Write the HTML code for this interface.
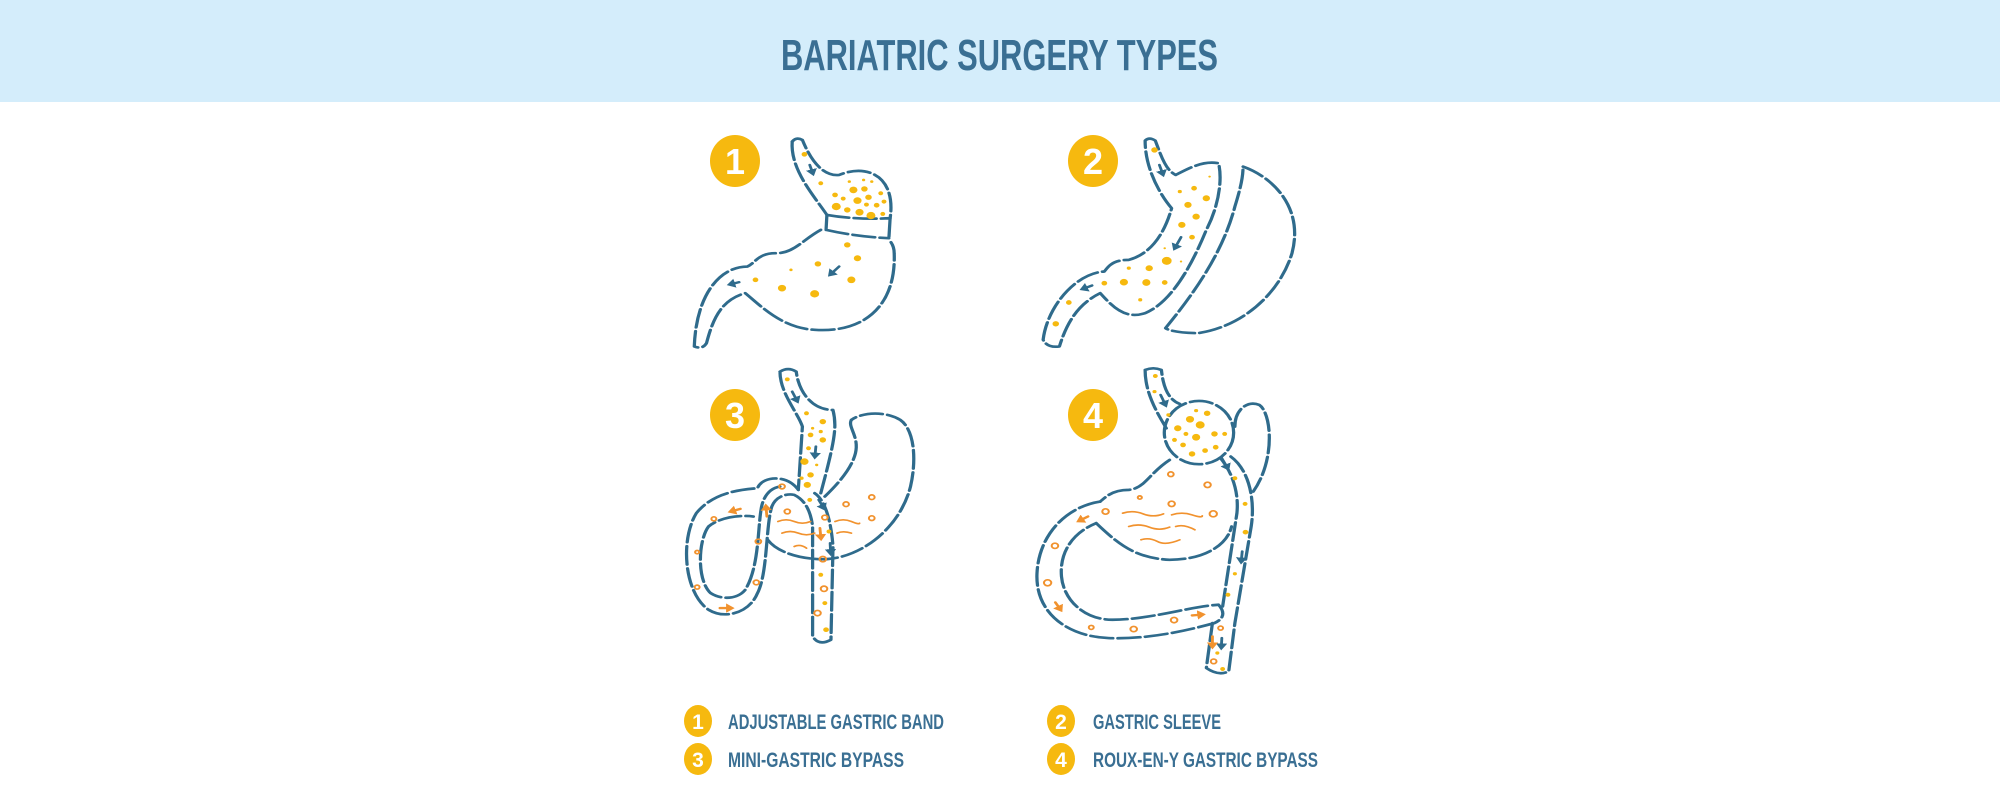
<!DOCTYPE html>
<html><head><meta charset="utf-8"><style>
html,body{margin:0;padding:0;background:#fff;width:2000px;height:800px;overflow:hidden}
svg{display:block}
.o{fill:none;stroke:#2f6b8c;stroke-width:8;stroke-dasharray:55 12;stroke-linecap:round;stroke-linejoin:round}
.y{fill:#f6b90f}
.oc{fill:none;stroke:#f1922e;stroke-width:5}
.w{fill:none;stroke:#f1922e;stroke-width:5;stroke-linecap:round}
.ba{stroke:#2f6b8c;stroke-width:7;stroke-linecap:round;fill:none}
.oa{stroke:#f1922e;stroke-width:7;stroke-linecap:round;fill:none}
text{font-family:"Liberation Sans",sans-serif;font-weight:bold}
</style></head><body>
<svg width="2000" height="800" viewBox="0 0 2000 800" xmlns="http://www.w3.org/2000/svg">
<defs>
<marker id="hb" markerWidth="4" markerHeight="4" refX="1" refY="2" orient="auto" markerUnits="strokeWidth"><path d="M0,0 L3,2 L0,4 Z" fill="#2f6b8c"/></marker>
<marker id="ho" markerWidth="4" markerHeight="4" refX="1" refY="2" orient="auto" markerUnits="strokeWidth"><path d="M0,0 L3,2 L0,4 Z" fill="#f1922e"/></marker>
</defs>
<rect x="0" y="0" width="2000" height="102" fill="#d4edfb"/>
<text x="781" y="70" font-size="44" fill="#3a6f93" textLength="437" lengthAdjust="spacingAndGlyphs">BARIATRIC SURGERY TYPES</text>

<g fill="#f6b90f"><ellipse cx="735" cy="161" rx="25" ry="26"/><ellipse cx="1093" cy="161" rx="25" ry="26"/><ellipse cx="735" cy="415" rx="25" ry="26"/><ellipse cx="1093" cy="415" rx="25" ry="26"/></g>
<g fill="#fff" font-size="36" text-anchor="middle"><text x="735" y="174">1</text><text x="1093" y="174">2</text><text x="735" y="428">3</text><text x="1093" y="428">4</text></g>

<g transform="translate(680,120) scale(0.408,0.333)">
<path class="o" d="M275,65 Q285,50 300,60 C320,120 350,170 390,165 C460,130 530,170 515,295"/>
<path class="o" d="M275,65 C270,150 330,230 360,285"/>
<path class="o" d="M360,285 Q430,300 515,295 M360,285 L358,330 M515,295 L512,355 M358,330 Q430,350 512,355"/>
<path class="o" d="M345,330 C300,360 280,400 235,400 C190,400 185,430 165,440 C100,440 40,520 35,680 Q55,690 65,670 C80,600 100,540 160,520 C200,560 250,625 330,630 C450,640 530,560 525,400 C525,375 515,365 512,358"/>
<g class="y">
<circle cx="305" cy="103" r="7"/><circle cx="345" cy="190" r="6"/><circle cx="415" cy="185" r="4"/><circle cx="450" cy="180" r="4"/><circle cx="470" cy="185" r="4"/><circle cx="425" cy="210" r="10"/><circle cx="452" cy="207" r="8"/><circle cx="380" cy="225" r="7"/><circle cx="400" cy="236" r="6"/><circle cx="435" cy="242" r="10"/><circle cx="462" cy="232" r="8"/><circle cx="492" cy="220" r="6"/><circle cx="383" cy="260" r="11"/><circle cx="410" cy="270" r="8"/><circle cx="440" cy="277" r="10"/><circle cx="468" cy="287" r="11"/><circle cx="482" cy="256" r="7"/><circle cx="500" cy="245" r="6"/><circle cx="497" cy="282" r="6"/><circle cx="457" cy="254" r="6"/>
<circle cx="410" cy="375" r="8"/><circle cx="435" cy="415" r="9"/><circle cx="338" cy="432" r="8"/><circle cx="272" cy="450" r="4"/><circle cx="185" cy="480" r="7"/><circle cx="250" cy="505" r="10"/><circle cx="330" cy="522" r="11"/><circle cx="420" cy="480" r="10"/>
</g>
<path class="ba" d="M318,135 L324,155" marker-end="url(#hb)"/>
<path class="ba" d="M390,440 L372,460" marker-end="url(#hb)"/>
<path class="ba" d="M145,487 L128,492" marker-end="url(#hb)"/>

<path class="o" d="M1140,62 Q1150,50 1165,62 C1180,110 1190,150 1215,165 C1240,150 1280,120 1320,130 C1330,180 1320,260 1290,330 C1250,450 1200,550 1140,580 C1090,600 1060,560 1030,520 C980,550 950,600 930,680 Q900,685 890,660 C900,560 970,460 1040,455 C1050,440 1060,420 1100,420 C1160,400 1190,330 1205,265 C1180,230 1140,150 1140,62 Z"/>
<path class="o" d="M1380,140 C1450,170 1530,260 1500,400 C1470,520 1380,620 1270,640 C1240,640 1200,635 1190,625 C1260,520 1330,400 1360,260 C1375,200 1380,170 1380,140 Z"/>
<g class="y">
<circle cx="1163" cy="90" r="8"/><circle cx="1298" cy="170" r="3"/><circle cx="1225" cy="215" r="5"/><circle cx="1260" cy="205" r="7"/><circle cx="1290" cy="235" r="9"/><circle cx="1245" cy="255" r="9"/><circle cx="1265" cy="290" r="9"/><circle cx="1230" cy="315" r="9"/><circle cx="1255" cy="352" r="7"/><circle cx="1188" cy="385" r="3"/><circle cx="1193" cy="423" r="12"/><circle cx="1228" cy="425" r="3"/><circle cx="1150" cy="445" r="9"/><circle cx="1100" cy="445" r="5"/><circle cx="1088" cy="487" r="10"/><circle cx="1143" cy="488" r="10"/><circle cx="1188" cy="488" r="7"/><circle cx="1040" cy="490" r="7"/><circle cx="1128" cy="540" r="5"/><circle cx="953" cy="548" r="7"/><circle cx="921" cy="612" r="8"/>
</g>
<path class="ba" d="M1175,135 L1182,158" marker-end="url(#hb)"/>
<path class="ba" d="M1228,352 L1215,380" marker-end="url(#hb)"/>
<path class="ba" d="M1010,497 L992,505" marker-end="url(#hb)"/>
</g>

<g transform="translate(680,360) scale(0.408,0.333)">
<path class="o" d="M245,35 Q265,20 285,35 C290,90 320,150 375,150 C385,200 380,240 345,400 M245,35 C245,100 290,160 300,200 L290,390"/>
<path class="o" d="M420,180 C410,200 440,230 430,280 C420,330 380,380 355,410"/>
<path class="o" d="M215,540 C240,580 300,600 360,598 C450,590 540,500 565,380 C580,300 575,210 540,180 C500,150 440,160 420,180"/>
<path class="o" d="M290,390 C260,340 200,350 190,385 C140,390 80,400 40,460 C0,540 10,700 70,750 C110,780 170,760 190,700 C215,640 210,500 225,440 C235,410 260,400 280,405 C305,420 320,450 325,500 L325,830 Q340,860 370,840 L375,560 C370,480 355,420 330,400"/>
<path class="o" d="M245,380 C220,385 205,410 200,440 C190,500 195,620 160,690 C140,720 100,720 75,700 C40,660 45,540 70,500 C100,470 150,465 180,470"/>
<g class="y"><circle cx="263" cy="58" r="6"/><circle cx="310" cy="160" r="6"/><circle cx="350" cy="185" r="8"/><circle cx="325" cy="205" r="4"/><circle cx="345" cy="215" r="5"/><circle cx="320" cy="225" r="7"/><circle cx="350" cy="240" r="8"/><circle cx="315" cy="265" r="6"/><circle cx="305" cy="305" r="10"/><circle cx="335" cy="315" r="4"/><circle cx="320" cy="345" r="8"/><circle cx="298" cy="355" r="5"/><circle cx="312" cy="375" r="9"/><circle cx="318" cy="420" r="6"/><circle cx="365" cy="515" r="6"/><circle cx="345" cy="645" r="6"/><circle cx="355" cy="730" r="6"/><circle cx="358" cy="810" r="7"/></g>
<g class="oc"><circle cx="250" cy="380" r="7"/><circle cx="263" cy="455" r="7"/><circle cx="407" cy="433" r="7"/><circle cx="470" cy="412" r="7"/><circle cx="470" cy="475" r="7"/><circle cx="355" cy="473" r="7"/><circle cx="83" cy="477" r="6"/><circle cx="192" cy="545" r="7"/><circle cx="42" cy="577" r="5"/><circle cx="42" cy="682" r="6"/><circle cx="187" cy="668" r="7"/><circle cx="350" cy="598" r="8"/><circle cx="353" cy="687" r="8"/><circle cx="337" cy="760" r="8"/></g>
<g class="w"><path d="M240,485 Q260,475 280,485 T320,485"/><path d="M380,485 Q400,475 420,485 T440,490"/><path d="M250,520 Q270,510 290,520 T330,520"/><path d="M385,520 Q400,512 420,520"/><path d="M280,560 Q295,552 310,565"/></g>
<path class="ba" d="M275,95 L285,118" marker-end="url(#hb)"/>
<path class="ba" d="M333,260 L331,285" marker-end="url(#hb)"/>
<path class="ba" d="M340,420 L350,440" marker-end="url(#hb)"/>
<path class="ba" d="M368,550 L369,575" marker-end="url(#hb)"/>
<path class="oa" d="M213,470 L211,445" marker-end="url(#ho)"/>
<path class="oa" d="M148,447 L130,453" marker-end="url(#ho)"/>
<path class="oa" d="M98,745 L120,745" marker-end="url(#ho)"/>
<path class="oa" d="M343,505 L345,530" marker-end="url(#ho)"/>

<path class="o" d="M1140,30 Q1160,20 1180,30 C1185,90 1200,120 1225,132 M1140,30 C1140,100 1170,160 1192,205"/>
<ellipse class="o" cx="1272" cy="218" rx="85" ry="95"/>
<path class="o" d="M1360,200 C1360,150 1390,120 1420,135 C1450,160 1460,300 1405,395"/>
<path class="o" d="M1325,295 C1355,340 1370,400 1365,460 L1330,740 M1350,290 C1395,330 1410,420 1400,500 L1360,790 L1345,935 Q1320,950 1290,925 L1305,790"/>
<path class="o" d="M1200,300 C1150,340 1140,385 1100,390 C1060,390 1045,410 1030,425 M1020,490 C1080,560 1120,595 1200,600 C1280,600 1340,560 1352,500"/>
<path class="o" d="M1030,425 C950,440 880,520 875,640 C870,760 950,830 1050,835 C1150,840 1250,810 1310,790 Q1345,770 1320,735 C1250,740 1150,780 1060,780 C990,780 940,720 935,650 C930,580 960,520 1020,490"/>
<g class="y"><circle cx="1165" cy="48" r="6"/><circle cx="1163" cy="95" r="5"/><circle cx="1197" cy="165" r="5"/><circle cx="1250" cy="178" r="10"/><circle cx="1292" cy="160" r="8"/><circle cx="1265" cy="152" r="5"/><circle cx="1220" cy="205" r="9"/><circle cx="1275" cy="195" r="11"/><circle cx="1310" cy="222" r="8"/><circle cx="1240" cy="222" r="6"/><circle cx="1265" cy="232" r="10"/><circle cx="1335" cy="222" r="6"/><circle cx="1212" cy="240" r="6"/><circle cx="1233" cy="255" r="7"/><circle cx="1287" cy="272" r="7"/><circle cx="1313" cy="262" r="7"/><circle cx="1255" cy="282" r="8"/><circle cx="1360" cy="355" r="6"/><circle cx="1385" cy="432" r="6"/><circle cx="1386" cy="517" r="7"/><circle cx="1360" cy="642" r="5"/><circle cx="1343" cy="705" r="6"/><circle cx="1317" cy="880" r="5"/><circle cx="1330" cy="928" r="6"/></g>
<g class="oc"><circle cx="1203" cy="343" r="7"/><circle cx="1293" cy="375" r="8"/><circle cx="1127" cy="413" r="5"/><circle cx="1205" cy="432" r="8"/><circle cx="1043" cy="455" r="8"/><circle cx="1307" cy="462" r="9"/><circle cx="919" cy="558" r="8"/><circle cx="901" cy="669" r="9"/><circle cx="1008" cy="803" r="6"/><circle cx="1112" cy="808" r="8"/><circle cx="1211" cy="781" r="8"/><circle cx="1325" cy="805" r="6"/><circle cx="1308" cy="905" r="7"/></g>
<g class="w"><path d="M1085,460 Q1110,450 1135,462 T1185,462"/><path d="M1205,465 Q1230,455 1255,465 T1280,468"/><path d="M1100,500 Q1125,490 1150,502 T1200,502"/><path d="M1215,500 Q1235,492 1262,510"/><path d="M1130,540 Q1150,532 1170,545 T1225,540"/></g>
<path class="ba" d="M1178,105 L1188,130" marker-end="url(#hb)"/>
<path class="ba" d="M1328,295 L1340,320" marker-end="url(#hb)"/>
<path class="ba" d="M1378,575 L1376,600" marker-end="url(#hb)"/>
<path class="ba" d="M1328,835 L1327,858" marker-end="url(#hb)"/>
<path class="oa" d="M1000,470 L983,480" marker-end="url(#ho)"/>
<path class="oa" d="M920,728 L930,745" marker-end="url(#ho)"/>
<path class="oa" d="M1255,767 L1275,765" marker-end="url(#ho)"/>
<path class="oa" d="M1305,830 L1305,855" marker-end="url(#ho)"/>
</g>

<g fill="#f6b90f"><ellipse cx="698" cy="721" rx="14" ry="16"/><ellipse cx="1061" cy="721" rx="14" ry="16"/><ellipse cx="698" cy="759" rx="14" ry="16"/><ellipse cx="1061" cy="759" rx="14" ry="16"/></g>
<g fill="#fff" font-size="21" text-anchor="middle"><text x="698" y="729">1</text><text x="1061" y="729">2</text><text x="698" y="767">3</text><text x="1061" y="767">4</text></g>
<g fill="#3a6f93" font-size="21">
<text x="728" y="729" textLength="216" lengthAdjust="spacingAndGlyphs">ADJUSTABLE GASTRIC BAND</text>
<text x="1093" y="729" textLength="128" lengthAdjust="spacingAndGlyphs">GASTRIC SLEEVE</text>
<text x="728" y="767" textLength="176" lengthAdjust="spacingAndGlyphs">MINI-GASTRIC BYPASS</text>
<text x="1093" y="767" textLength="225" lengthAdjust="spacingAndGlyphs">ROUX-EN-Y GASTRIC BYPASS</text>
</g>
</svg>
</body></html>
